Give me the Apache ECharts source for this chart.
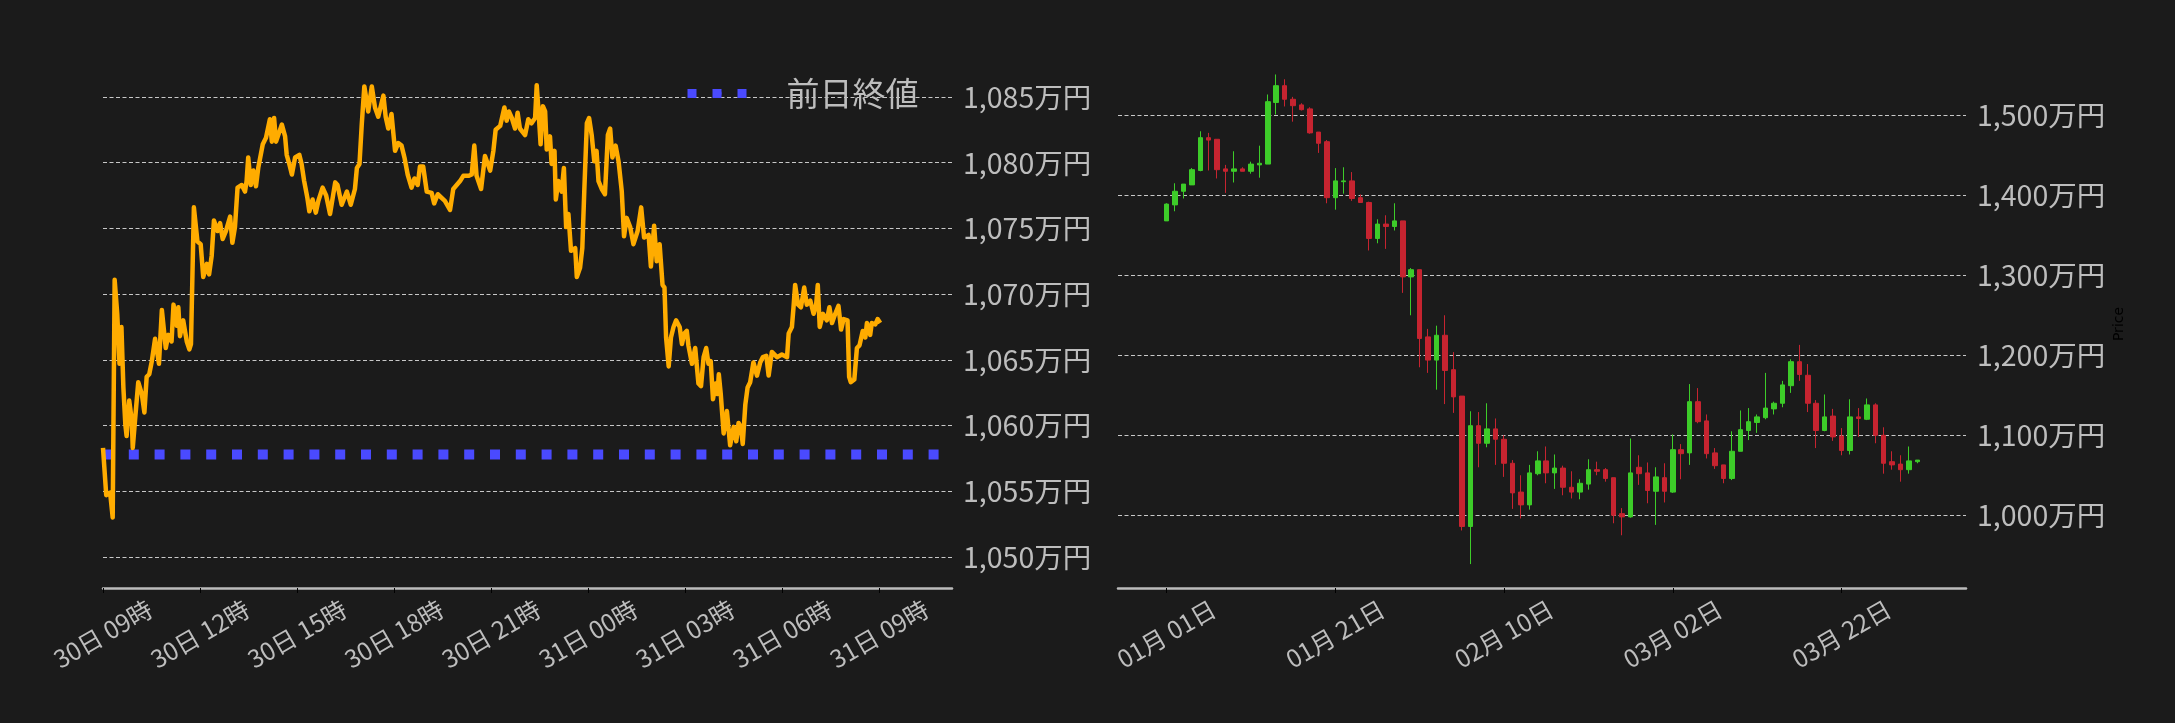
<!DOCTYPE html>
<html><head><meta charset="utf-8">
<script src="https://cdn.jsdelivr.net/npm/echarts@6/dist/echarts.min.js"></script>
<style>html,body{margin:0;padding:0;background:#1b1b1b;}#c{width:2175px;height:723px;}</style>
</head><body><div id="c"></div>
<script>
const FONT = '"Noto Sans CJK JP", "Noto Sans", sans-serif';
const prevClose = 1057.8;
const prevCloseName = '前日終値';

// Left chart: hours since 30日 09時, price (万円)
const leftHours = [0,0.10,0.22,0.30,0.36,0.44,0.51,0.57,0.63,0.69,0.73,0.81,0.89,0.92,0.99,1.09,1.20,1.28,1.35,1.43,1.51,1.61,1.73,1.82,1.94,2.02,2.12,2.18,2.28,2.33,2.38,2.48,2.59,2.67,2.72,2.81,2.92,3.02,3.10,3.21,3.28,3.36,3.43,3.54,3.62,3.70,3.80,3.93,4.00,4.08,4.16,4.29,4.39,4.44,4.49,4.57,4.65,4.73,4.80,4.94,5.04,5.16,5.22,5.29,5.35,5.53,5.63,5.68,5.76,5.84,5.94,6.07,6.14,6.22,6.32,6.38,6.48,6.58,6.66,6.79,6.90,7.02,7.18,7.25,7.38,7.54,7.66,7.79,7.85,7.93,8.00,8.08,
8.12,8.20,8.31,8.41,8.51,8.67,8.74,8.82,8.92,9.03,9.13,9.23,9.32,9.42,9.54,9.63,9.73,9.80,9.90,10.01,10.16,10.24,10.35,10.57,10.73,10.83,11.04,11.14,11.30,11.40,11.48,11.55,11.69,11.81,11.97,12.07,12.14,12.28,12.41,12.48,12.55,12.64,12.74,12.82,12.89,13.05,13.15,13.25,13.36,13.41,13.48,13.53,13.60,13.67,13.72,13.82,13.87,13.96,14.00,14.08,14.18,14.25,14.32,14.39,14.47,14.60,14.65,14.75,14.82,14.88,14.96,15.03,15.11,15.19,15.26,15.32,15.42,15.52,15.61,15.68,15.75,15.85,15.94,16.04,16.11,16.19,16.30,
16.40,16.53,16.64,16.73,16.87,16.94,17.04,17.12,17.21,17.30,17.36,17.41,17.49,17.56,17.64,17.72,17.83,17.90,17.97,18.05,18.10,18.21,18.31,18.41,18.49,18.57,18.65,18.72,18.79,18.86,18.94,19.00,19.04,19.10,19.19,19.29,19.39,19.50,19.58,19.65,19.72,19.78,19.86,19.93,20.01,20.11,20.22,20.32,20.40,20.51,20.58,20.68,20.84,20.99,21.15,21.20,21.30,21.35,21.40,21.49,21.58,21.68,21.76,21.87,21.97,22.05,22.10,22.16,22.26,22.38,22.46,22.54,22.64,22.74,22.82,22.90,23.02,23.07,23.12,23.23,23.31,23.39,23.49,23.57,23.62,23.72,23.77,23.88,23.95,24.03];
const leftPrices = [1058.3,1054.7,1054.9,1053.0,1071.1,1068.5,1064.7,1067.5,1062.9,1060.1,1059.2,1061.9,1060.4,1058.3,1060.4,1063.3,1062.4,1061.0,1063.7,1063.9,1064.9,1066.6,1064.7,1068.8,1065.9,1066.9,1066.4,1069.2,1067.6,1069.0,1066.8,1068.0,1066.4,1065.8,1066.2,1076.6,1074.0,1073.8,1071.3,1072.3,1071.5,1072.9,1075.6,1074.8,1075.4,1074.2,1074.8,1075.9,1073.9,1075.1,1078.1,1078.3,1077.8,1078.6,1080.4,1078.3,1079.4,1078.2,1079.6,1081.4,1081.9,1083.3,1081.6,1083.4,1081.6,1082.9,1082.0,1080.6,1079.9,1079.1,1080.4,1080.6,1079.9,1078.6,1077.3,1076.3,1077.2,1076.2,1077.1,1078.1,1077.5,1076.1,1078.5,1078.3,1076.8,1077.8,1076.8,1078.0,1079.6,1079.9,1082.9,1085.8,
1085.9,1083.9,1085.8,1084.2,1083.5,1085.1,1083.5,1082.6,1083.7,1080.9,1081.5,1081.3,1080.4,1079.1,1078.1,1078.8,1078.3,1079.7,1079.7,1077.8,1077.7,1076.9,1077.6,1077.1,1076.4,1078.0,1078.6,1079.0,1079.0,1079.1,1081.3,1079.0,1078.0,1080.5,1079.4,1080.9,1082.5,1082.8,1084.2,1083.2,1083.9,1083.4,1082.6,1083.8,1082.6,1082.1,1083.3,1083.0,1083.4,1085.9,1083.4,1081.4,1084.3,1083.9,1081.0,1082.0,1079.9,1080.9,1077.2,1078.6,1077.8,1079.6,1075.1,1076.1,1073.3,1073.5,1071.3,1072.0,1073.5,1077.8,1083.0,1083.4,1082.1,1080.1,1080.9,1078.6,1078.0,1077.6,1082.1,1082.6,1080.4,1081.3,1080.1,1077.8,1074.4,1075.8,1075.1,
1073.8,1074.8,1076.6,1074.3,1074.5,1072.1,1075.2,1072.5,1073.8,1070.7,1070.5,1066.7,1064.5,1066.7,1067.5,1068.0,1067.5,1066.2,1067.0,1067.2,1066.1,1064.7,1065.9,1063.2,1063.0,1065.2,1065.9,1064.7,1064.9,1062.0,1063.2,1062.4,1063.9,1062.4,1059.4,1061.1,1058.5,1059.9,1058.8,1060.2,1059.9,1058.6,1061.6,1062.9,1063.3,1064.8,1063.8,1064.8,1065.2,1065.3,1063.8,1065.6,1065.2,1065.4,1065.2,1067.0,1067.5,1069.0,1070.7,1069.2,1069.0,1070.5,1069.2,1069.5,1068.5,1069.2,1070.7,1067.5,1068.5,1068.0,1069.0,1067.8,1068.5,1069.1,1067.3,1068.1,1068.0,1063.7,1063.3,1063.5,1065.9,1066.1,1067.2,1066.7,1067.8,1066.9,1067.8,1067.7,1068.1,1067.8];
const leftXMax = 26.25;
const leftTickHours = [0,3,6,9,12,15,18,21,24];
const leftTickLabels = ['30日 09時','30日 12時','30日 15時','30日 18時','30日 21時','31日 00時','31日 03時','31日 06時','31日 09時'];
const leftYTicks = [1050,1055,1060,1065,1070,1075,1080,1085];

// Right chart: daily candles 01/01 .. 03/31 (index = days since 01/01)
const candleOpen  = [1368,1388,1405,1413,1431,1472,1470,1433,1430,1433,1430,1438,1439,1516,1537,1520,1513,1508,1479,1467,1397,1417,1418,1397,1391,1346,1364,1361,1368,1298,1307,1223,1194,1225,1182,1149,986,1112,1090,1108,1095,1065,1029,1013,1052,1068,1053,1059,1035,1029,1039,1057,1057,1047,1002,998,1060,1053,1030,1047,1029,1082,1078,1142,1118,1078,1063,1046,1080,1106,1116,1122,1133,1140,1162,1192,1175,1140,1106,1124,1099,1081,1123,1120,1138,1100,1067,1064,1057,1067];
const candleClose = [1389,1405,1414,1432,1472,1469,1432,1430,1433,1430,1439,1440,1517,1537,1520,1512,1507,1478,1465,1397,1418,1418,1396,1391,1346,1364,1361,1368,1298,1307,1221,1194,1225,1181,1148,986,1112,1090,1108,1095,1065,1028,1013,1053,1068,1053,1059,1035,1029,1040,1057,1055,1046,1000,998,1053,1052,1031,1048,1030,1082,1077,1142,1117,1077,1062,1046,1080,1107,1117,1123,1134,1140,1163,1192,1176,1140,1106,1123,1098,1081,1123,1121,1138,1100,1065,1063,1057,1068,1069];
const candleLow   = [1368,1380,1396,1413,1430,1431,1421,1403,1416,1430,1427,1422,1439,1501,1511,1492,1506,1477,1453,1390,1382,1402,1393,1391,1331,1340,1333,1356,1278,1250,1185,1178,1157,1139,1128,981,939,1060,1085,1063,1048,1008,996,1007,1050,1040,1033,1025,1021,1020,1032,1050,1042,990,975,997,1038,1015,988,1016,1028,1045,1063,1115,1071,1058,1040,1044,1080,1094,1103,1120,1126,1135,1153,1168,1129,1084,1105,1093,1075,1076,1098,1119,1090,1052,1057,1042,1052,1065];
const candleHigh  = [1390,1415,1414,1434,1480,1478,1470,1438,1455,1435,1442,1462,1526,1551,1545,1523,1515,1510,1479,1469,1434,1435,1429,1401,1392,1370,1375,1390,1368,1309,1307,1233,1237,1250,1204,1149,1130,1129,1140,1121,1100,1069,1050,1063,1080,1086,1076,1062,1055,1045,1070,1067,1059,1047,1009,1096,1075,1066,1060,1065,1101,1089,1164,1159,1126,1084,1063,1105,1131,1134,1126,1178,1142,1168,1195,1213,1189,1144,1151,1133,1109,1145,1134,1146,1140,1110,1080,1075,1086,1069];
const rightXMin = -5.75, rightXMax = 94.75;
const rightTickDays = [0,20,40,60,80];
const rightTickLabels = ['01月 01日','01月 21日','02月 10日','03月 02日','03月 22日'];
const rightYTicks = [1000,1100,1200,1300,1400,1500];

const LABEL = '#bdbdbd';
const GRID = '#c8c8c8';
const AXIS = '#bcbcbc';
const UP = '#3dcc29', DOWN = '#c62430';
const fmtMan = v => Number(v).toLocaleString('en-US') + '万円';
const pick = (ticks, labels) => v => { const i = ticks.findIndex(t => Math.abs(t - v) < 1e-6); return i >= 0 ? labels[i] : ''; };

const xLabel = (ticks, labels) => ({
  customValues: ticks, formatter: pick(ticks, labels), rotate: 30, align: 'center', verticalAlign: 'middle',
  margin: 46, color: LABEL, fontSize: 24.5, fontFamily: FONT
});
const yLabel = ticks => ({ customValues: ticks, formatter: fmtMan, margin: 11, color: LABEL, fontSize: 28.5, fontFamily: FONT });
const split = { show: true, lineStyle: { color: GRID, width: 1, type: [4, 2.5] } };

const chart = echarts.init(document.getElementById('c'));
chart.setOption({
  backgroundColor: '#1b1b1b',
  animation: false,
  grid: [
    { left: 103, right: 1223, top: 62, bottom: 135 },
    { left: 1118, right: 209, top: 60, bottom: 135 }
  ],
  legend: {
    data: [prevCloseName], left: 683, top: 77, padding: 0, itemWidth: 60, itemHeight: 10, selectedMode: false,
    textStyle: { color: LABEL, fontSize: 33, fontFamily: FONT, padding: [0, 0, 0, 34] },
    lineStyle: { width: 9, type: [9, 16], cap: 'butt' }
  },
  xAxis: [
    { type: 'value', gridIndex: 0, min: 0, max: leftXMax,
      axisLine: { lineStyle: { color: AXIS, width: 2.5 } },
      axisTick: { show: true, customValues: leftTickHours, length: 5, lineStyle: { color: '#000' } },
      axisLabel: xLabel(leftTickHours, leftTickLabels), splitLine: { show: false } },
    { type: 'value', gridIndex: 1, min: rightXMin, max: rightXMax,
      axisLine: { lineStyle: { color: AXIS, width: 2.5 } },
      axisTick: { show: true, customValues: rightTickDays, length: 5, lineStyle: { color: '#000' } },
      axisLabel: xLabel(rightTickDays, rightTickLabels), splitLine: { show: false } }
  ],
  yAxis: [
    { type: 'value', gridIndex: 0, position: 'right', min: 1047.64, max: 1087.66,
      axisLine: { show: false }, axisTick: { show: false, customValues: leftYTicks },
      axisLabel: yLabel(leftYTicks), splitLine: split },
    { type: 'value', gridIndex: 1, position: 'right', min: 909.1, max: 1569.1,
      axisLine: { show: false }, axisTick: { show: false, customValues: rightYTicks },
      axisLabel: yLabel(rightYTicks), splitLine: split,
      name: 'Price', nameLocation: 'middle', nameGap: 146, nameRotate: 90,
      nameTextStyle: { color: '#000', fontSize: 14, fontFamily: 'DejaVu Sans' } }
  ],
  series: [
    { name: prevCloseName, type: 'line', xAxisIndex: 0, yAxisIndex: 0, symbol: 'none', z: 2,
      data: [[0, prevClose], [leftXMax, prevClose]],
      lineStyle: { color: '#4a4aff', width: 10, type: [10, 15.8], cap: 'butt' }, itemStyle: { color: '#4a4aff' } },
    { name: 'price', type: 'line', xAxisIndex: 0, yAxisIndex: 0, symbol: 'none', z: 3,
      data: leftHours.map((h, i) => [h, leftPrices[i]]),
      lineStyle: { color: '#ffac00', width: 4.5, join: 'round' } },
    { name: 'candle', type: 'candlestick', xAxisIndex: 1, yAxisIndex: 1, barWidth: 5,
      data: candleOpen.map((o, i) => [i, o, candleClose[i], candleLow[i], candleHigh[i]]),
      itemStyle: { color: UP, color0: DOWN, borderColor: UP, borderColor0: DOWN, borderWidth: 1 } }
  ]
});
</script></body></html>
